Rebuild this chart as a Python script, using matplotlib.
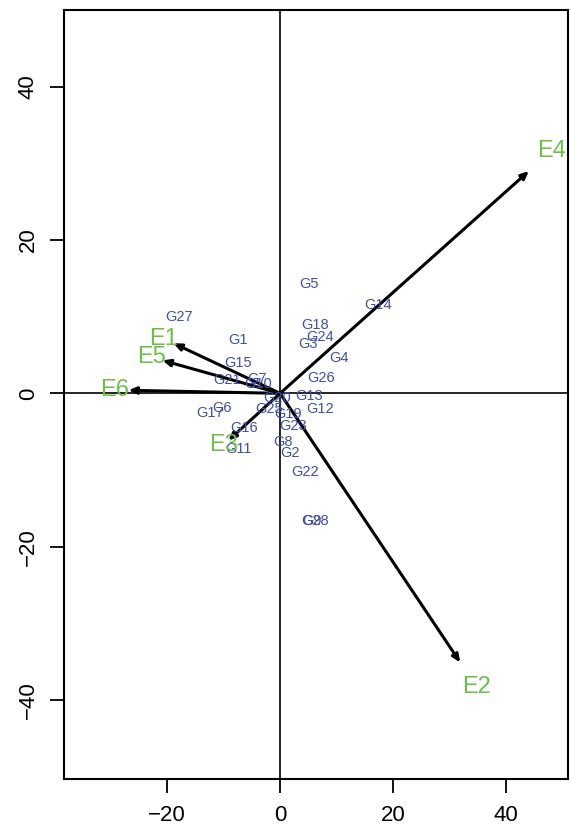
import matplotlib
matplotlib.use("Agg")
import matplotlib.pyplot as plt
import numpy as np

plt.rcParams['font.family'] = ['Liberation Sans', 'DejaVu Sans']

# Genotype scores (text labels)
gen_labels = ["G1", "G2", "G3", "G4", "G5", "G6", "G7", "G8", "G9", "G10",
              "G11", "G12", "G13", "G14", "G15", "G16", "G17", "G18", "G19", "G20",
              "G21", "G22", "G23", "G24", "G25", "G26", "G27", "G28"]
gen_x = [-7.4, 1.7, 4.9, 10.4, 5.2, -10.2, -4.1, 0.5, 5.6, -3.8,
         -7.3, 7.0, 5.2, 17.4, -7.4, -6.4, -12.3, 6.1, 1.4, -0.6,
         -9.4, 4.5, 2.3, 7.1, -2.0, 7.2, -17.8, 6.1]
gen_y = [7.0, -7.8, 6.5, 4.6, 14.2, -1.9, 1.9, -6.4, -16.7, 1.2,
         -7.2, -2.1, -0.3, 11.5, 4.0, -4.5, -2.5, 8.9, -2.7, -0.6,
         1.7, -10.3, -4.3, 7.3, -2.0, 2.0, 9.9, -16.7]

# Environment vectors (arrow tips)
env_labels = ["E1", "E2", "E3", "E4", "E5", "E6"]
env_x = [-18.85, 31.85, -9.14, 44.0, -20.8, -26.8]
env_y = [6.53, -35.1, -6.14, 29.0, 4.3, 0.4]
label_scale = 1.09

fig = plt.figure(figsize=(5.7, 8.31), dpi=100)
ax = fig.add_axes([64/570, 1-779/831, (568-64)/570, (779-10)/831])
ax.set_xlim(-38.2, 50.9)
ax.set_ylim(-50.3, 50.0)

ax.axhline(0, color='black', lw=1.2, zorder=1)
ax.axvline(0, color='black', lw=1.2, zorder=1)

blue = '#3F4FAE'
green = '#6CC04A'
for lab, x, y in zip(gen_labels, gen_x, gen_y):
    ax.text(x, y, lab, color=blue, fontsize=10.5, ha='center', va='center', zorder=3)

for lab, x, y in zip(env_labels, env_x, env_y):
    ax.annotate('', xy=(x, y), xytext=(0, 0),
                arrowprops=dict(arrowstyle='-|>,head_length=0.45,head_width=0.2',
                                color='black', lw=2.2, shrinkA=0, shrinkB=0),
                zorder=2)
    ax.text(x * label_scale, y * label_scale, lab, color=green, fontsize=17,
            ha='center', va='center', zorder=4)

ax.set_xticks([-20, 0, 20, 40])
ax.set_yticks([-40, -20, 0, 20, 40])
ax.tick_params(axis='both', direction='out', length=10, width=1.3, labelsize=16)
ax.tick_params(axis='x', pad=9)
ax.tick_params(axis='y', pad=8)
for t in ax.get_yticklabels():
    t.set_rotation(90)
    t.set_va('center')
for s in ax.spines.values():
    s.set_linewidth(1.5)

fig.savefig("out.png", dpi=100)
